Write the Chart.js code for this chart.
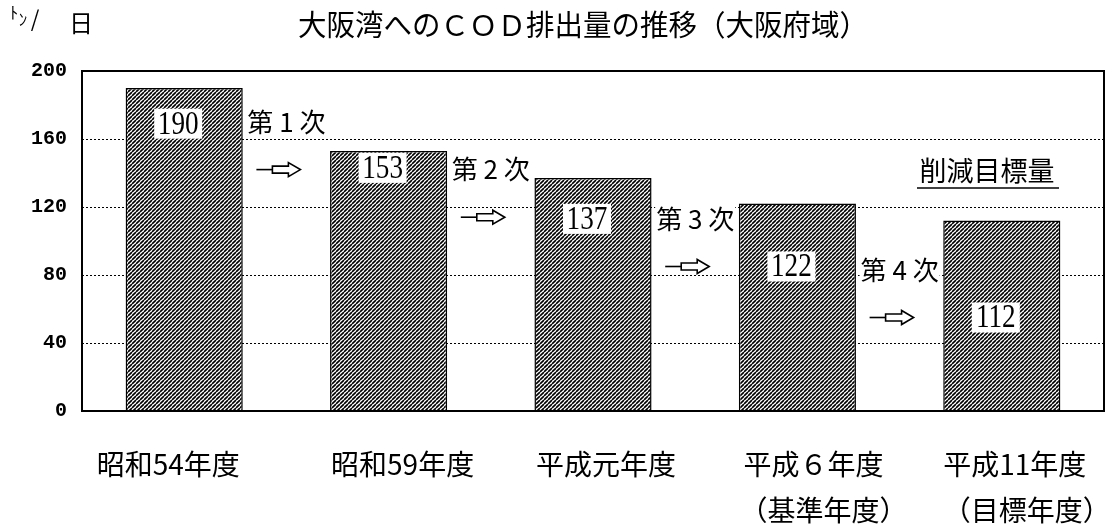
<!DOCTYPE html>
<html>
<head>
<meta charset="utf-8">
<script src="https://cdn.jsdelivr.net/npm/chart.js@4"></script>
<style>
  html, body { margin: 0; background: #fff; }
  #wrap { width: 1108px; height: 529px; }
</style>
</head>
<body>
<div id="wrap"><canvas id="c"></canvas></div>
<script>
// データ
const categories = [["昭和54年度"], ["昭和59年度"], ["平成元年度"], ["平成６年度", "（基準年度）"], ["平成11年度", "（目標年度）"]]
const emissions = [190, 153, 137, 122, 112]
const phases = ["第 1 次", "第 2 次", "第 3 次", "第 4 次"]
const yMin = 0, yMax = 200, yStep = 40

const JP = '"Noto Sans CJK JP", sans-serif'

// 斜線のハッチング
function hatch() {
  const c = document.createElement("canvas")
  c.width = 4; c.height = 4
  const g = c.getContext("2d")
  g.fillStyle = "#fff"
  g.fillRect(0, 0, 4, 4)
  g.strokeStyle = "#000"
  g.lineWidth = 1.6
  g.beginPath()
  for (let k = -4; k <= 8; k += 4) { g.moveTo(k, 4); g.lineTo(k + 4, 0) }
  g.stroke()
  return g.createPattern(c, "repeat")
}

// 矢印「─⇨」
function arrow(ctx, cx, cy) {
  const x0 = cx - 22
  ctx.lineWidth = 1.6
  ctx.beginPath()
  ctx.moveTo(x0, cy); ctx.lineTo(x0 + 16, cy)
  ctx.stroke()
  ctx.beginPath()
  ctx.moveTo(x0 + 16, cy - 3.5)
  ctx.lineTo(x0 + 32, cy - 3.5)
  ctx.lineTo(x0 + 32, cy - 7)
  ctx.lineTo(x0 + 44, cy)
  ctx.lineTo(x0 + 32, cy + 7)
  ctx.lineTo(x0 + 32, cy + 3.5)
  ctx.lineTo(x0 + 16, cy + 3.5)
  ctx.closePath()
  ctx.stroke()
}

const decor = {
  id: "decor",
  afterDatasetsDraw(chart, args, opts) {
    const { ctx, chartArea: a, scales: { x, y } } = chart
    ctx.save()
    ctx.fillStyle = "#000"
    ctx.strokeStyle = "#000"
    // 棒の中の数値
    emissions.forEach((v, i) => {
      const cx = x.getPixelForValue(i) - 6
      const cy = y.getPixelForValue(opts.valueAt[i])
      ctx.fillStyle = "#fff"
      ctx.fillRect(cx - 24, cy - 15, 48, 30)
      ctx.fillStyle = "#000"
      ctx.save()
      ctx.translate(cx, cy + 1)
      ctx.scale(0.8, 1)
      ctx.font = '34px "Liberation Serif", serif'
      ctx.textAlign = "center"
      ctx.textBaseline = "middle"
      ctx.fillText(String(v), 0, 0)
      ctx.restore()
    })
    // 第n次 と 矢印
    ctx.font = "26px " + JP
    ctx.textAlign = "center"
    ctx.textBaseline = "middle"
    phases.forEach((p, i) => {
      const cx = (x.getPixelForValue(i) + x.getPixelForValue(i + 1)) / 2
      const cy = y.getPixelForValue(opts.phaseAt[i])
      const w = ctx.measureText(p).width
      ctx.fillStyle = "#fff"
      ctx.fillRect(cx - w / 2 - 1, cy - 14, w + 2, 28)
      ctx.fillStyle = "#000"
      ctx.fillText(p, cx, cy)
      arrow(ctx, cx - 8, y.getPixelForValue(opts.arrowAt[i]))
    })
    // 削減目標量
    ctx.font = "27px " + JP
    ctx.fillText("削減目標量", 987, 171)
    ctx.lineWidth = 1.5
    ctx.beginPath()
    ctx.moveTo(917, 188); ctx.lineTo(1059, 188)
    ctx.stroke()
    // 枠
    ctx.lineWidth = 2
    ctx.strokeRect(a.left, a.top, a.right - a.left, a.bottom - a.top)
    // 横軸ラベル
    ctx.font = "28px " + JP
    categories.forEach((lines, i) => {
      const cx = x.getPixelForValue(i)
      lines.forEach((s, j) => {
        ctx.fillText(s, cx + opts.labelShift[j][i], a.bottom + 53 + j * 46)
      })
    })
    ctx.restore()
  },
  afterDraw(chart) {
    const { ctx } = chart
    ctx.save()
    ctx.fillStyle = "#000"
    ctx.textBaseline = "middle"
    ctx.textAlign = "center"
    // タイトル
    ctx.font = "29px " + JP
    const t = "大阪湾へのＣＯＤ排出量の推移（大阪府域）"
    const w = ctx.measureText(t).width
    ctx.save()
    ctx.translate(583, 25)
    ctx.scale(570 / w, 1)
    ctx.fillText(t, 0, 0)
    ctx.restore()
    // 単位
    ctx.font = "17px " + JP
    ctx.fillText("ﾄ", 14, 13)
    ctx.fillText("ﾝ", 23, 20)
    ctx.font = "22px " + JP
    ctx.fillText("/", 35, 19)
    ctx.font = "24px " + JP
    ctx.fillText("日", 81, 23)
    ctx.restore()
  }
}

new Chart(document.getElementById("c"), {
  type: "bar",
  data: {
    labels: categories,
    datasets: [{
      data: emissions,
      backgroundColor: hatch(),
      borderColor: "#000",
      borderWidth: 1.5,
      borderSkipped: "bottom",
      barPercentage: 0.573,
      categoryPercentage: 1
    }]
  },
  options: {
    responsive: true,
    maintainAspectRatio: false,
    animation: false,
    layout: { padding: { top: 71, right: 4, left: 0, bottom: 0 } },
    plugins: {
      legend: { display: false },
      tooltip: { enabled: false },
      decor: {
        // ラベルの高さ（目盛の値）
        valueAt: [169, 143, 113, 85, 55],
        phaseAt: [170, 142, 113, 83],
        arrowAt: [142, 114, 85, 55],
        // 横軸ラベルのずれ（1行目, 2行目）
        labelShift: [[-16, 14, 13, 16, 13], [0, 0, 0, 26, 25]]
      }
    },
    scales: {
      x: {
        afterFit: s => { s.height = 118 },
        grid: { display: false },
        border: { display: false },
        ticks: { display: false }
      },
      y: {
        min: yMin,
        max: yMax,
        z: 1,
        afterFit: s => { s.width = 82 },
        ticks: {
          stepSize: yStep,
          color: "#000",
          font: { family: '"Liberation Mono", monospace', size: 20, weight: "bold" },
          padding: 15
        },
        grid: {
          drawTicks: false,
          lineWidth: 1,
          color: c => (c.tick && (c.tick.value === yMin || c.tick.value === yMax)) ? "rgba(0,0,0,0)" : "#000"
        },
        border: { display: false, dash: [2, 2] }
      }
    }
  },
  plugins: [decor]
})
</script>
</body>
</html>
